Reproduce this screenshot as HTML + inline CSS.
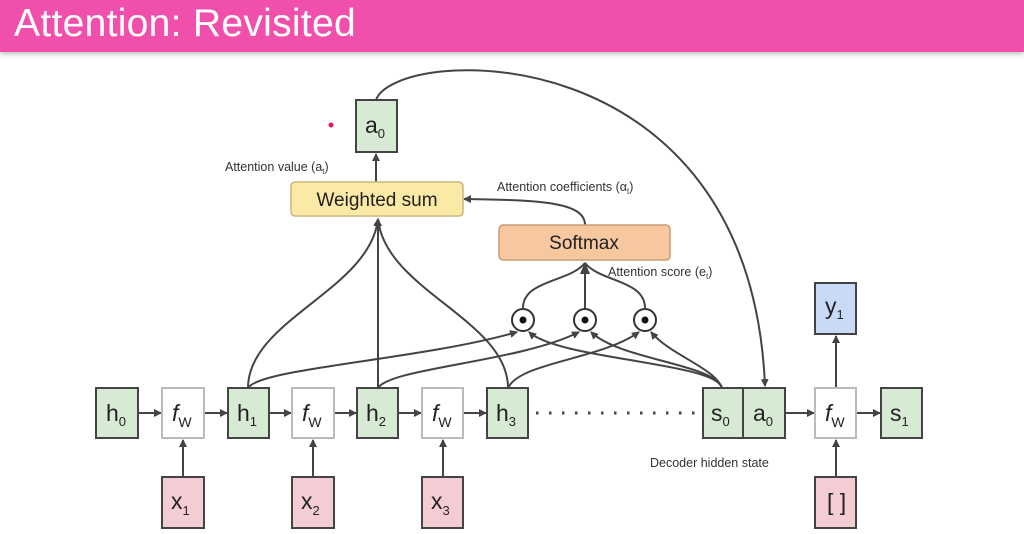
<!DOCTYPE html>
<html><head><meta charset="utf-8"><style>
html,body{margin:0;padding:0;width:1024px;height:534px;overflow:hidden;background:#fff;font-family:"Liberation Sans",sans-serif}
.bar{position:absolute;left:0;top:0;width:1024px;height:52px;background:#f050ac;box-shadow:0 2px 5px rgba(0,0,0,0.25)}
.bar span{position:absolute;left:14px;top:2px;color:#fff;font-size:39px;letter-spacing:0.3px}
svg{position:absolute;left:0;top:0}
</style></head><body>
<div class="bar"><span>Attention: Revisited</span></div>
<svg width="1024" height="534" viewBox="0 0 1024 534" font-family="Liberation Sans, sans-serif">
<defs><marker id="ar" markerWidth="8" markerHeight="8" refX="7" refY="4" orient="auto" markerUnits="userSpaceOnUse"><path d="M0,0 L8,4 L0,8 Z" fill="#444"/></marker>
<marker id="ar2" markerWidth="12" markerHeight="10" refX="11" refY="5" orient="auto" markerUnits="userSpaceOnUse"><path d="M0,0 L12,5 L0,10 Z" fill="#444"/></marker></defs>
<g stroke="#444" stroke-width="2" fill="none">
<line x1="139" y1="413" x2="161" y2="413" marker-end="url(#ar)"/>
<line x1="205" y1="413" x2="227" y2="413" marker-end="url(#ar)"/>
<line x1="270" y1="413" x2="291" y2="413" marker-end="url(#ar)"/>
<line x1="335" y1="413" x2="356" y2="413" marker-end="url(#ar)"/>
<line x1="399" y1="413" x2="421" y2="413" marker-end="url(#ar)"/>
<line x1="464" y1="413" x2="486" y2="413" marker-end="url(#ar)"/>
<line x1="786" y1="413" x2="814" y2="413" marker-end="url(#ar)"/>
<line x1="857" y1="413" x2="880" y2="413" marker-end="url(#ar)"/>
<line x1="183" y1="477" x2="183" y2="440" marker-end="url(#ar)"/>
<line x1="313" y1="477" x2="313" y2="440" marker-end="url(#ar)"/>
<line x1="443" y1="477" x2="443" y2="440" marker-end="url(#ar)"/>
<line x1="836" y1="477" x2="836" y2="440" marker-end="url(#ar)"/>
<line x1="836" y1="388" x2="836" y2="336" marker-end="url(#ar)"/>
<line x1="376" y1="182" x2="376" y2="154" marker-end="url(#ar)"/>
<line x1="536" y1="413" x2="700" y2="413" stroke-dasharray="2.5,10.5" stroke-width="3"/>
<path d="M248,388 C248,320 370,290 378,219" marker-end="url(#ar)"/>
<line x1="378" y1="388" x2="378" y2="219" marker-end="url(#ar)"/>
<path d="M508,388 C508,320 385,290 378,219"/>
<path d="M248,388 C260,368 420,360 517,332" marker-end="url(#ar)"/>
<path d="M378,388 C390,368 520,362 579,332" marker-end="url(#ar)"/>
<path d="M508,388 C520,362 600,360 639,332" marker-end="url(#ar)"/>
<path d="M722,388 C715,362 560,360 529,332" marker-end="url(#ar)"/>
<path d="M722,388 C715,364 620,360 591,332" marker-end="url(#ar)"/>
<path d="M722,388 C715,368 670,355 651,332" marker-end="url(#ar)"/>
<path d="M523,308 C523,280 570,282 585,263"/>
<line x1="585" y1="308" x2="585" y2="263" marker-end="url(#ar2)"/>
<path d="M645,308 C645,280 600,282 585,263"/>
<path d="M585,225 C585,202 540,200 464,199" marker-end="url(#ar)"/>
<path d="M376,100 C395,45 750,30 765,386" marker-end="url(#ar)"/>
</g>
<circle cx="523" cy="320" r="11" fill="#fff" stroke="#333" stroke-width="2"/><circle cx="523" cy="320" r="3.5" fill="#111"/>
<circle cx="585" cy="320" r="11" fill="#fff" stroke="#333" stroke-width="2"/><circle cx="585" cy="320" r="3.5" fill="#111"/>
<circle cx="645" cy="320" r="11" fill="#fff" stroke="#333" stroke-width="2"/><circle cx="645" cy="320" r="3.5" fill="#111"/>
<g stroke="#444" stroke-width="2">
<rect x="96" y="388" width="42" height="50" fill="#d7ead3"/>
<rect x="228" y="388" width="41" height="50" fill="#d7ead3"/>
<rect x="357" y="388" width="41" height="50" fill="#d7ead3"/>
<rect x="487" y="388" width="41" height="50" fill="#d7ead3"/>
<rect x="703" y="388" width="40" height="50" fill="#d7ead3"/>
<rect x="743" y="388" width="42" height="50" fill="#d7ead3"/>
<rect x="881" y="388" width="41" height="50" fill="#d7ead3"/>
<rect x="356" y="100" width="41" height="52" fill="#d7ead3"/>
<rect x="162" y="477" width="42" height="51" fill="#f4ccd4"/>
<rect x="292" y="477" width="42" height="51" fill="#f4ccd4"/>
<rect x="422" y="477" width="41" height="51" fill="#f4ccd4"/>
<rect x="815" y="477" width="41" height="51" fill="#f4ccd4"/>
<rect x="815" y="283" width="41" height="51" fill="#c9daf8"/>
</g>
<g stroke="#bbb" stroke-width="2" fill="#fff">
<rect x="162" y="388" width="42" height="50"/>
<rect x="292" y="388" width="42" height="50"/>
<rect x="422" y="388" width="41" height="50"/>
<rect x="815" y="388" width="41" height="50"/>
</g>
<rect x="291" y="182" width="172" height="34" rx="4" fill="#fbe9a6" stroke="#c9b77a" stroke-width="1.5"/>
<rect x="499" y="225" width="171" height="35" rx="4" fill="#f7c8a0" stroke="#c99b77" stroke-width="1.5"/>
<g fill="#222" font-size="19" text-anchor="middle">
<text x="377" y="206">Weighted sum</text>
<text x="584" y="249">Softmax</text>
</g>
<g fill="#222" font-size="23">
<text x="106" y="421">h<tspan font-size="13" dy="5">0</tspan></text>
<text x="237" y="421">h<tspan font-size="13" dy="5">1</tspan></text>
<text x="366" y="421">h<tspan font-size="13" dy="5">2</tspan></text>
<text x="496" y="421">h<tspan font-size="13" dy="5">3</tspan></text>
<text x="711" y="421">s<tspan font-size="13" dy="5">0</tspan></text>
<text x="753" y="421">a<tspan font-size="13" dy="5">0</tspan></text>
<text x="890" y="421">s<tspan font-size="13" dy="5">1</tspan></text>
<text x="365" y="133">a<tspan font-size="13" dy="5">0</tspan></text>
<text x="825" y="314">y<tspan font-size="13" dy="5">1</tspan></text>
<text x="171" y="509">x<tspan font-size="13" dy="6">1</tspan></text>
<text x="301" y="509">x<tspan font-size="13" dy="6">2</tspan></text>
<text x="431" y="509">x<tspan font-size="13" dy="6">3</tspan></text>
<text x="827" y="510">[ ]</text>
<g font-style="italic"><text x="172" y="421">f<tspan font-style="normal" font-size="14" dy="6">W</tspan></text>
<text x="302" y="421">f<tspan font-style="normal" font-size="14" dy="6">W</tspan></text>
<text x="432" y="421">f<tspan font-style="normal" font-size="14" dy="6">W</tspan></text>
<text x="825" y="421">f<tspan font-style="normal" font-size="14" dy="6">W</tspan></text></g>
</g>
<g fill="#333" font-size="12.5">
<text x="225" y="171">Attention value (a<tspan font-size="8" dy="3">t</tspan><tspan dy="-3">)</tspan></text>
<text x="497" y="191">Attention coefficients (α<tspan font-size="8" dy="3">t</tspan><tspan dy="-3">)</tspan></text>
<text x="608" y="276">Attention score (e<tspan font-size="8" dy="3">t</tspan><tspan dy="-3">)</tspan></text>
<text x="650" y="467">Decoder hidden state</text>
</g>
<circle cx="331" cy="125" r="2.5" fill="#e8175d"/>
</svg>
</body></html>
